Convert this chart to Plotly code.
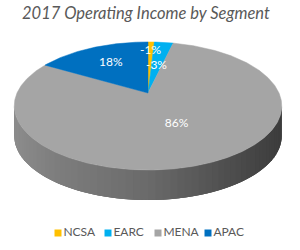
import numpy as np
import plotly.graph_objects as go

# ---- data ----
segments = ["NCSA", "EARC", "MENA", "APAC"]
share_pct = [-1, -3, 86, 18]
colors = ["#FFC000", "#00B0F0", "#A5A5A5", "#0070C0"]
title_text = "2017 Operating Income by Segment"

# ---- 3D pie geometry (layout/style) ----
CX, CY = 148.0, 93.0
A, B, K = 131.0, 61.4, 0.203
DEPTH = 30.0
label_r = [0.79, 0.49, 0.50, 0.63]
FONT = "Lato"


def proj(phi_deg, r=1.0):
    phi = np.radians(phi_deg)
    u = r * np.sin(phi)
    v = -r * np.cos(phi)
    w = 1 - K * v
    return CX + A * u / w, CY + B * v / w


mags = np.abs(np.array(share_pct, dtype=float))
total = mags.sum()
ends = np.cumsum(mags) / total * 360.0
starts = np.concatenate([[0.0], ends[:-1]])

fig = go.Figure()

# side (front wall) with gradient strips
phi1 = np.degrees(np.arccos(-K))
phi2 = 360.0 - phi1
xl, _ = proj(phi2)
xr, _ = proj(phi1)
stops_t = [0.0, 0.15, 0.5, 0.78, 1.0]
stops_g = [0x8C, 0x7E, 0x6A, 0x50, 0x3C]

# solid base under the strips
base = np.linspace(phi1, phi2, 120)
bx, by = proj(base)
fig.add_trace(go.Scatter(x=list(bx) + list(bx[::-1]) + [bx[0]],
                         y=list(by) + list((by + DEPTH)[::-1]) + [by[0]],
                         mode="lines", fill="toself", fillcolor="rgb(106,106,106)",
                         line=dict(width=0), hoverinfo="skip", showlegend=False))
n = 60
edges = np.linspace(phi1, phi2, n + 1)
for i in range(n):
    hi = edges[min(i + 2, n)]
    seg = np.linspace(edges[i], hi, 5)
    xs, ys = proj(seg)
    px = list(xs) + list(xs[::-1])
    py = list(ys) + list((ys + DEPTH)[::-1])
    xm = np.mean(proj(np.array([edges[i], edges[i + 1]]))[0])
    t = (xm - xl) / (xr - xl)
    g = int(round(np.interp(t, stops_t, stops_g)))
    c = f"rgb({g},{g},{g})"
    fig.add_trace(go.Scatter(x=px + [px[0]], y=py + [py[0]], mode="lines", fill="toself",
                             fillcolor=c, line=dict(width=0),
                             hoverinfo="skip", showlegend=False))

# top face slices
for name, s, e, col in zip(segments, starts, ends, colors):
    arc = np.linspace(s, e, max(4, int((e - s) * 2)))
    xs, ys = proj(arc)
    px = [CX] + list(xs) + [CX]
    py = [CY] + list(ys) + [CY]
    fig.add_trace(go.Scatter(x=px, y=py, mode="lines", fill="toself", fillcolor=col,
                             line=dict(color=col, width=0.5), hoverinfo="skip",
                             showlegend=False, name=name))

# data labels
mids = (starts + ends) / 2
lx, ly = [], []
for m, r in zip(mids, label_r):
    x, y = proj(m, r)
    lx.append(x)
    ly.append(y)
fig.add_trace(go.Scatter(x=lx, y=ly, mode="text", text=[f"{v}%" for v in share_pct],
                         textfont=dict(family=FONT, size=12, color="white"),
                         hoverinfo="skip", showlegend=False))

# legend row
leg_x = [58 + 50 * i for i in range(len(segments))]
leg_y = [233] * len(segments)
fig.add_trace(go.Scatter(x=leg_x, y=leg_y, mode="markers+text", text=segments,
                         textposition="middle right",
                         marker=dict(symbol="square", size=7, color=colors),
                         textfont=dict(family=FONT, size=12, color="#595959"),
                         hoverinfo="skip", showlegend=False))

fig.add_annotation(x=146, y=13, text=f"<i>{title_text}</i>", showarrow=False,
                   font=dict(family=FONT, size=16.5, color="#595959"),
                   xanchor="center", yanchor="middle")

fig.update_layout(width=300, height=250, margin=dict(l=0, r=0, t=0, b=0),
                  paper_bgcolor="white", plot_bgcolor="white", showlegend=False,
                  xaxis=dict(range=[0, 300], visible=False, fixedrange=True),
                  yaxis=dict(range=[250, 0], visible=False, fixedrange=True))

fig.write_html("out.html", config={"displayModeBar": False, "staticPlot": True})
